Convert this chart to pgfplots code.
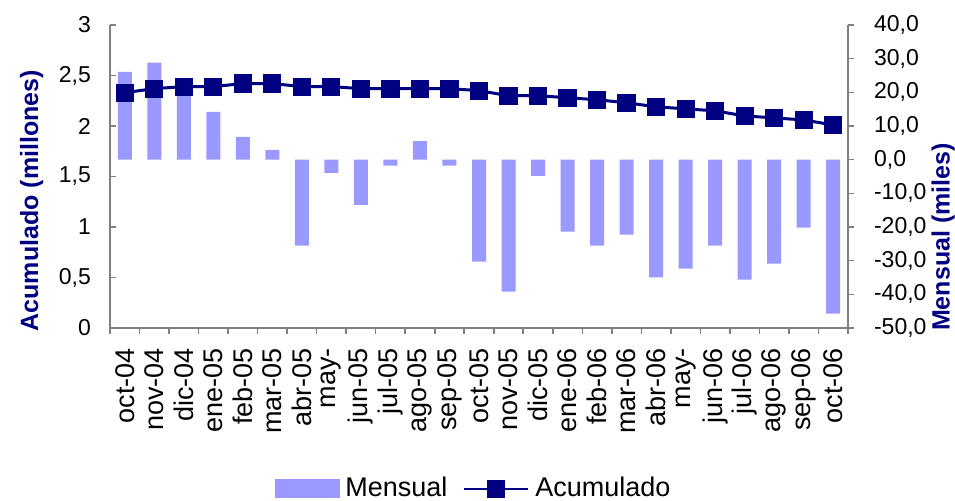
\documentclass[border=0pt]{standalone}
\usepackage{fontspec}
\setmainfont{Liberation Sans}
\usepackage{pgfplots}
\pgfplotsset{compat=1.18}
\definecolor{barcol}{HTML}{9999FF}
\definecolor{navy}{HTML}{000080}
\definecolor{axgray}{HTML}{808080}

\pgfplotsset{
  base/.style={
    scale only axis, width=369pt, height=151.5pt,
    xmin=-0.5, xmax=24.5,
    axis line style={axgray, line width=0.8pt},
    every tick/.style={axgray, line width=0.8pt},
    major tick length=3pt, minor tick length=3pt,
    y tick label style={font=\fontsize{11.5}{13}\selectfont, black},
    ylabel style={font=\bfseries\fontsize{12.5}{14}\selectfont, text=navy},
  },
}

\begin{document}
\begin{tikzpicture}
% mensual (miles), eje derecho
\begin{axis}[base,
  ymin=-50, ymax=40, ytick={-50,-40,...,40},
  yticklabels={{-50,0},{-40,0},{-30,0},{-20,0},{-10,0},{0,0},{10,0},{20,0},{30,0},{40,0}},
  axis y line*=right, axis x line=none,
  tick align=outside,
  yticklabel style={anchor=west, xshift=6.5pt},
  ylabel={Mensual (miles)},
  ylabel style={at={(axis description cs:1.129,0.30)}, anchor=center},
]
\addplot[ybar, bar width=7pt, fill=barcol, draw=none] coordinates {
(0,26.1)(1,28.8)(2,22.0)(3,14.2)(4,6.8)(5,2.9)(6,-25.5)(7,-3.9)(8,-13.4)
(9,-1.8)(10,5.5)(11,-1.8)(12,-30.3)(13,-39.2)(14,-4.8)(15,-21.4)(16,-25.5)
(17,-22.3)(18,-35.0)(19,-32.4)(20,-25.5)(21,-35.6)(22,-30.9)(23,-20.2)(24,-45.7)
};
\end{axis}
% acumulado (millones), eje izquierdo
\begin{axis}[base,
  ymin=0, ymax=3, ytick={0,0.5,...,3},
  yticklabels={0,{0,5},1,{1,5},2,{2,5},3},
  axis y line*=left, axis x line*=bottom,
  tick align=inside,
  yticklabel style={anchor=east, xshift=-6pt},
  ylabel={Acumulado (millones)},
  ylabel style={at={(axis description cs:-0.106,0.42)}, anchor=center},
  xtick={0,...,24},
  xticklabels={oct-04,nov-04,dic-04,ene-05,feb-05,mar-05,abr-05,may-,jun-05,jul-05,ago-05,sep-05,oct-05,nov-05,dic-05,ene-06,feb-06,mar-06,abr-06,may-,jun-06,jul-06,ago-06,sep-06,oct-06},
  x tick label style={yshift=-8pt, rotate=90, anchor=east, font=\fontsize{13.5}{15}\selectfont, inner sep=2pt},
  major x tick style={draw=none},
  minor xtick={-0.5,0.5,...,24.5},
  minor x tick style={yshift=-3pt},
  legend style={at={(axis description cs:0.494,-0.53)}, anchor=center, draw=none,
    legend columns=2, font=\fontsize{13.5}{15}\selectfont, inner sep=0pt,
    /tikz/every odd column/.append style={column sep=1pt},
    /tikz/every even column/.append style={column sep=6pt}},
]
\addlegendimage{legend image code/.code={\fill[barcol] (-10pt,-4.5pt) rectangle (22pt,4.5pt);}}
\addlegendentry{Mensual}
\addplot[navy, line width=1.5pt, mark=square*, mark size=3.8pt,
  legend image code/.code={\draw[line width=1pt, mark repeat=2, mark phase=2, mark size=4pt]
    plot coordinates {(-10pt,0pt)(6pt,0pt)(22pt,0pt)};}] coordinates {
(0,2.33)(1,2.37)(2,2.39)(3,2.39)(4,2.42)(5,2.42)(6,2.39)(7,2.39)(8,2.37)
(9,2.37)(10,2.37)(11,2.37)(12,2.35)(13,2.30)(14,2.30)(15,2.28)(16,2.26)
(17,2.23)(18,2.19)(19,2.17)(20,2.15)(21,2.10)(22,2.08)(23,2.06)(24,2.01)
};
\addlegendentry{Acumulado}
\end{axis}
\pgfresetboundingbox
\path[use as bounding box] (-55pt,-86.5pt) rectangle (422.5pt,164pt);
\end{tikzpicture}
\end{document}
